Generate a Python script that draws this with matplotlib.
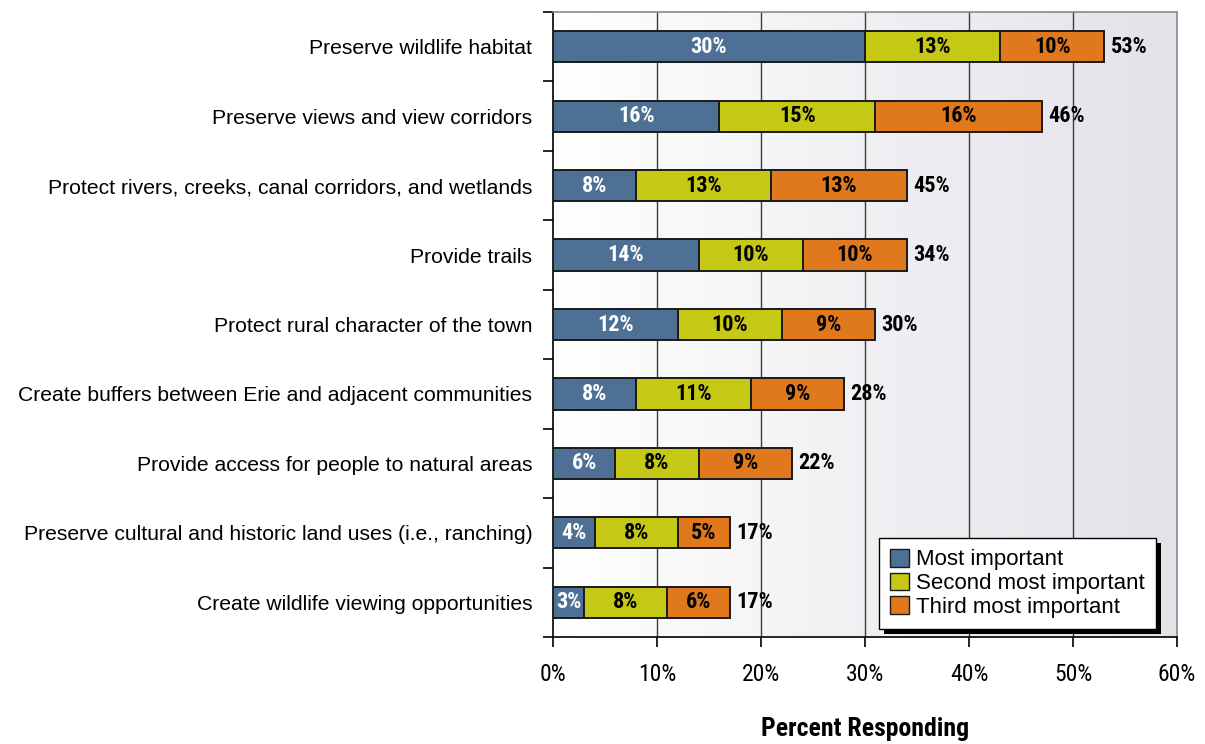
import numpy as np
import matplotlib
matplotlib.use("Agg")
import matplotlib.pyplot as plt
from matplotlib.patches import Rectangle, Patch
from matplotlib.colors import LinearSegmentedColormap
from matplotlib import font_manager

categories = [
    "Preserve wildlife habitat",
    "Preserve views and view corridors",
    "Protect rivers, creeks, canal corridors, and wetlands",
    "Provide trails",
    "Protect rural character of the town",
    "Create buffers between Erie and adjacent communities",
    "Provide access for people to natural areas",
    "Preserve cultural and historic land uses (i.e., ranching)",
    "Create wildlife viewing opportunities",
]
most_important = [30, 16, 8, 14, 12, 8, 6, 4, 3]
second_most = [13, 15, 13, 10, 10, 11, 8, 8, 8]
third_most = [10, 16, 13, 10, 9, 9, 9, 5, 6]
totals = [53, 46, 45, 34, 30, 28, 22, 17, 17]
series_names = ["Most important", "Second most important", "Third most important"]
x_ticks = [0, 10, 20, 30, 40, 50, 60]

colors = ["#4E7095", "#C5C815", "#E0781D"]
text_colors = ["white", "black", "black"]

weights = {}
for f in font_manager.fontManager.ttflist:
    w = f.weight if isinstance(f.weight, int) else 400
    weights.setdefault(f.name, set()).add(w)


def pick(cands, need_bold=False):
    for c in cands:
        if c in weights:
            if not need_bold or any(w >= 600 for w in weights[c]):
                return c
    return "Liberation Sans"


narrow = pick(["Liberation Sans Narrow", "Arial Narrow", "Archivo Narrow",
               "Roboto Condensed", "PT Sans Narrow", "Fira Sans Condensed",
               "Barlow Semi Condensed", "Open Sans Condensed"], need_bold=True)
regular = pick(["Liberation Sans", "Arimo"])
plt.rcParams["font.family"] = [regular, "DejaVu Sans"]

fig = plt.figure(figsize=(12.05, 7.44), dpi=100)
ax = fig.add_axes([553 / 1205, 1 - 637 / 744, 624 / 1205, 625 / 744])

# soft horizontal gradient behind the plot area
grad = np.linspace(0, 1, 256).reshape(1, -1)
cmap = LinearSegmentedColormap.from_list("bg", ["#ffffff", "#e2e2e9"])
ax.imshow(grad, extent=[0, 60, 8.5, -0.5], aspect="auto", cmap=cmap, zorder=0)

ax.set_xlim(0, 60)
ax.set_ylim(8.5, -0.5)

for xv in x_ticks[1:-1]:
    ax.axvline(xv, color="#3a3a3a", lw=1.0, zorder=1)

y = np.arange(len(categories))
bar_h = 0.45
series = [most_important, second_most, third_most]
left = np.zeros(len(categories))
for vals, c, tc in zip(series, colors, text_colors):
    vals = np.array(vals, dtype=float)
    ax.barh(y, vals, left=left, height=bar_h, color=c, edgecolor="#1a1a1a",
            linewidth=1.4, zorder=3)
    for yi, l, v in zip(y, left, vals):
        ax.text(l + v / 2, yi, f"{int(v)}%", ha="center", va="center",
                color=tc, fontsize=16, fontweight="bold", family=narrow, zorder=4)
    left = left + vals

for yi, end, t in zip(y, left, totals):
    ax.text(end + 0.6, yi, f"{t}%", ha="left", va="center", color="black",
            fontsize=16, fontweight="bold", family=narrow, zorder=4)

# axes styling
for side in ["top", "right"]:
    ax.spines[side].set_color("#8a8a8a")
    ax.spines[side].set_linewidth(1.2)
for side in ["left", "bottom"]:
    ax.spines[side].set_color("black")
    ax.spines[side].set_linewidth(1.2)

ax.set_xticks(x_ticks)
ax.set_xticklabels([f"{v}%" for v in x_ticks], family=narrow, fontsize=17)
ax.tick_params(axis="x", direction="out", length=7, width=1.2, pad=12)

ax.set_yticks(y)
ax.set_yticklabels(categories, fontsize=15.2)
ax.tick_params(axis="y", which="major", length=0, pad=15)
ax.set_yticks(np.arange(-0.5, len(categories), 1.0), minor=True)
ax.tick_params(axis="y", which="minor", direction="out", length=7, width=1.2)

ax.set_xlabel("Percent Responding", family=narrow, fontsize=18.5,
              fontweight="bold", labelpad=22)

handles = [Patch(facecolor=c, edgecolor="#1a1a1a", linewidth=1.0) for c in colors]
leg = ax.legend(handles, series_names, loc="lower right",
                bbox_to_anchor=(0.966, 0.0128), borderaxespad=0,
                prop={"family": regular, "size": 16}, frameon=True,
                fancybox=False, framealpha=1.0, facecolor="white",
                handlelength=0.85, handleheight=0.85,
                handletextpad=0.3, labelspacing=0.1, borderpad=0.5)
leg.get_frame().set_edgecolor("black")
leg.get_frame().set_linewidth(1.0)
leg.set_zorder(6)

# solid drop shadow for the legend box
fig.canvas.draw()
bb = leg.get_window_extent()
inv = ax.transAxes.inverted()
(x0, y0), (x1, y1) = inv.transform([[bb.x0 + 5, bb.y0 - 5], [bb.x1 + 5, bb.y1 - 5]])
ax.add_patch(Rectangle((x0, y0), x1 - x0, y1 - y0, transform=ax.transAxes,
                       facecolor="black", edgecolor="none", zorder=5,
                       clip_on=False))

fig.savefig("out.png", dpi=100, facecolor="white")
